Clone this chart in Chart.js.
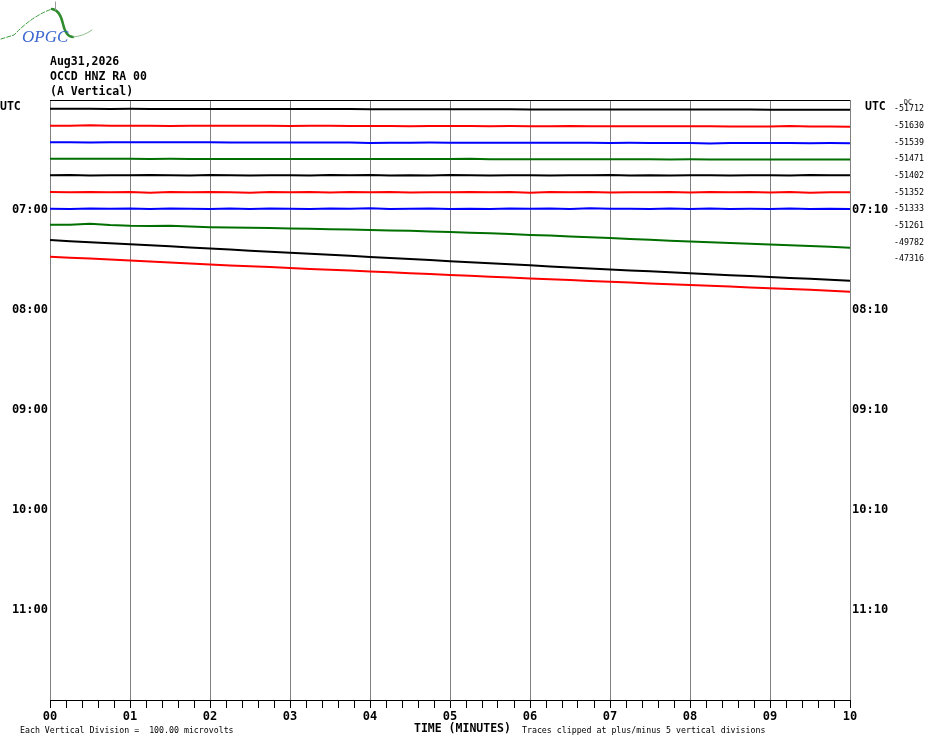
<!DOCTYPE html>
<html>
<head>
<meta charset="utf-8">
<script src="https://cdn.jsdelivr.net/npm/chart.js@4.4.0/dist/chart.umd.min.js"></script>
<style>
html,body{margin:0;padding:0;background:#fff;}
#wrap{position:relative;width:930px;height:744px;}
</style>
</head>
<body>
<div id="wrap"><canvas id="c" width="930" height="744"></canvas></div>
<script>
// ---- data ----
const titleLines = ['Aug31,2026', 'OCCD HNZ RA 00', '(A Vertical)'];
const leftHourLabels = ['07:00', '08:00', '09:00', '10:00', '11:00'];
const rightHourLabels = ['07:10', '08:10', '09:10', '10:10', '11:10'];
const hourRows = [6, 12, 18, 24, 30];
const dcOffsets = ['-51712', '-51630', '-51539', '-51471', '-51402', '-51352', '-51333', '-51261', '-49782', '-47316'];
const minuteLabels = ['00','01','02','03','04','05','06','07','08','09','10'];
const footLeft = 'Each Vertical Division =  100.00 microvolts';
const footMid = 'TIME (MINUTES)';
const footRight = 'Traces clipped at plus/minus 5 vertical divisions';

// trace deviations (downward, in screen-pixel amplitude units), 41 samples over 10 min
const trace0 = [0,0,0,0.1,0,0.1,0.1,0.1,0.2,0.2, 0.2,0.2,0.3,0.3,0.3,0.3,0.4,0.4,0.4,0.4, 0.5,0.5,0.5,0.5,0.6,0.6,0.6,0.6,0.7,0.7, 0.7,0.7,0.8,0.8,0.8,0.8,0.9,0.9,0.9,1.0, 1.0];
const trace1 = [0.2,0.3,-0.2,0.2,0.3,0.3,0.5,0.3,0.4,0.3, 0.4,0.4,0.5,0.4,0.2,0.5,0.5,0.5,0.8,0.6, 0.6,0.6,0.7,0.6,0.7,0.7,0.5,0.8,0.8,0.8, 0.9,0.8,0.9,0.9,1.0,1.0,1.0,0.5,1.1,1.1, 1.2];
const trace2 = [0,0.1,0.4,0.1,0.1,0.2,0.2,0.1,0.2,0.3, 0.3,0.3,0.4,0.3,0.4,0.4,0.8,0.5,0.5,0.4, 0.5,0.6,0.5,0.6,0.7,0.6,0.7,0.7,0.8,0.7, 0.8,0.8,0.9,1.3,0.8,0.9,0.9,0.9,1.0,0.9, 1.0];
const trace3 = [-0.1,-0.1,0,-0.1,0,0.3,0,0.1,0.1,0.1, 0.1,0.2,0.1,0.2,0.2,0.2,0.3,0.2,0.3,0.3, 0.3,0,0.4,0.4,0.4,0.4,0.5,0.5,0.4,0.5, 0.5,0.6,0.5,0.6,0.6,0.6,0.7,0.6,0.7,0.7, 0.7];
const trace4 = [-0.2,-0.4,0,-0.3,-0.1,-0.5,-0.2,0.1,-0.4,-0.2, 0,-0.3,-0.2,0.1,-0.4,-0.1,-0.5,0,-0.2,0.1, -0.4,-0.2,0,-0.3,-0.2,0.1,-0.3,-0.1,-0.5,0, -0.2,0.1,-0.3,-0.1,0,-0.3,-0.2,0.1,-0.4,-0.1, -0.2];
const trace5 = [-0.1,0.1,-0.2,0.2,-0.1,0.5,-0.1,0.2,-0.2,0.1, 0.5,-0.1,0.1,-0.2,0.3,-0.1,0.1,-0.2,0.4,0, 0.1,-0.1,0.2,-0.1,0.5,-0.1,0.1,-0.2,0.3,0, 0.1,-0.2,0.4,-0.1,0.2,-0.1,0.3,-0.1,0.5,0, 0];
const trace6 = [-0.1,0.1,-0.2,0,-0.2,0.1,-0.4,-0.1,0.1,-0.2, 0.2,-0.3,-0.1,0.1,-0.2,0,-0.5,0.1,0,-0.2, 0.1,-0.1,0.2,-0.3,0,-0.2,0.1,-0.6,0,-0.1, 0.2,-0.2,0.1,-0.4,0.1,0,0.1,-0.3,0.1,-0.1, 0.2];
const trace7 = [-0.8,-0.6,-1.8,-0.4,0.3,0.5,0.2,1.0,1.7,2.0, 2.4,2.6,3.0,3.3,3.8,4.1,4.5,5.0,5.4,6.0, 6.5,7.2,7.9,8.6,9.5,10.1,11.0,11.8,12.6,13.5, 14.3,15.2,16.0,16.7,17.5,18.2,19.0,19.8,20.6,21.4, 22.2];
const trace8 = [-2.1,-1.0,0.0,1.1,2.1,3.2,4.2,5.3,6.4,7.4, 8.5,9.5,10.6,11.6,12.7,13.7,14.8,15.8,16.9,17.9, 19.0,20.0,21.1,22.2,23.2,24.3,25.3,26.4,27.4,28.3, 29.2,30.2,31.1,32.0,33.0,33.9,34.9,35.8,36.7,37.7, 38.6];
const trace9 = [-2.1,-1.1,-0.2,0.8,1.8,2.7,3.6,4.7,5.6,6.7, 7.5,8.3,9.2,10.1,10.9,11.8,12.7,13.5,14.4,15.3, 16.1,16.9,17.9,18.7,19.6,20.5,21.3,22.2,23.0,23.8, 24.6,25.4,26.2,27.0,27.8,28.6,29.4,30.2,31.0,31.9, 32.9];
const traces = [trace0, trace1, trace2, trace3, trace4, trace5, trace6, trace7, trace8, trace9];

// ---- styles ----
const traceColors = ['#000000', '#ff0000', '#0000ff', '#006f00'];
const ROWS = 36;
const PLOT_H = 600;
const PX_PER_ROW = PLOT_H / ROWS;
const Y_MIN = -0.528;
const MONO = "'DejaVu Sans Mono', monospace";

const datasets = traces.map((arr, k) => ({
  data: arr.map((d, i) => ({ x: i * 10 / (arr.length - 1), y: k + d / PX_PER_ROW })),
  borderColor: traceColors[k % 4],
  borderWidth: 2,
  pointRadius: 0,
  tension: 0,
  fill: false
}));

const isInt = v => Math.abs(v - Math.round(v)) < 1e-6;

const decor = {
  id: 'decor',
  afterDraw(chart) {
    const ctx = chart.ctx;
    const ca = chart.chartArea;
    const ys = chart.scales.y;
    ctx.save();
    // top border
    ctx.strokeStyle = '#000';
    ctx.lineWidth = 1;
    ctx.beginPath();
    ctx.moveTo(ca.left, Math.round(ca.top) + 0.5);
    ctx.lineTo(ca.right, Math.round(ca.top) + 0.5);
    ctx.stroke();

    ctx.fillStyle = '#000';
    // title lines
    ctx.font = 'bold 11.5px ' + MONO;
    ctx.textAlign = 'left';
    ctx.textBaseline = 'alphabetic';
    titleLines.forEach((t, i) => ctx.fillText(t, 50, 65 + i * 15));

    // UTC labels
    ctx.font = 'bold 11.5px ' + MONO;
    ctx.textBaseline = 'middle';
    ctx.textAlign = 'left';
    ctx.fillText('UTC', 0, 107);
    ctx.fillText('UTC', 865, 107);

    // hour labels
    ctx.font = 'bold 12px ' + MONO;
    hourRows.forEach((r, i) => {
      const y = ys.getPixelForValue(r) + 1;
      ctx.textAlign = 'right';
      ctx.fillText(leftHourLabels[i], 48, y);
      ctx.textAlign = 'left';
      ctx.fillText(rightHourLabels[i], 852, y);
    });

    // DC offsets
    ctx.font = '8.3px ' + MONO;
    ctx.textAlign = 'left';
    dcOffsets.forEach((t, k) => {
      ctx.fillText(t, 894, ys.getPixelForValue(k) + 0.5);
    });
    ctx.font = '6.5px ' + MONO;
    ctx.fillText('DC', 904, 102);

    // footer
    ctx.font = '8.25px ' + MONO;
    ctx.textBaseline = 'middle';
    ctx.fillText(footLeft, 20, 730.5);
    ctx.fillText(footRight, 522, 730.5);
    ctx.font = 'bold 11.5px ' + MONO;
    ctx.fillText(footMid, 414, 729);

    // logo
    ctx.lineCap = 'round';
    ctx.strokeStyle = '#3a9a3a';
    ctx.lineWidth = 1;
    ctx.setLineDash([4, 2]);
    ctx.beginPath();
    ctx.moveTo(1, 39);
    ctx.lineTo(14, 35);
    ctx.quadraticCurveTo(32, 16, 52, 9);
    ctx.stroke();
    ctx.setLineDash([]);
    ctx.strokeStyle = '#2e8b2e';
    ctx.lineWidth = 2.5;
    ctx.beginPath();
    ctx.moveTo(52, 9);
    ctx.quadraticCurveTo(60, 10, 63, 24);
    ctx.quadraticCurveTo(66, 37, 73, 37);
    ctx.stroke();
    ctx.strokeStyle = '#8cc08c';
    ctx.lineWidth = 1;
    ctx.beginPath();
    ctx.moveTo(73, 37);
    ctx.quadraticCurveTo(84, 36, 92, 30);
    ctx.stroke();
    ctx.strokeStyle = '#999';
    ctx.beginPath();
    ctx.moveTo(55.5, 2);
    ctx.lineTo(55.5, 10);
    ctx.stroke();
    ctx.font = 'italic 17px "Liberation Serif", serif';
    ctx.fillStyle = '#3a66d0';
    ctx.textAlign = 'left';
    ctx.textBaseline = 'alphabetic';
    ctx.fillText('OPGC', 22, 42);
    ctx.restore();
  }
};

new Chart(document.getElementById('c'), {
  type: 'line',
  data: { datasets },
  options: {
    responsive: false,
    animation: false,
    devicePixelRatio: 1,
    layout: { padding: { left: 50, right: 80, top: 100, bottom: 0 } },
    plugins: { legend: { display: false }, tooltip: { enabled: false }, title: { display: false } },
    scales: {
      x: {
        type: 'linear',
        min: 0,
        max: 10,
        afterBuildTicks: scale => {
          const t = [];
          for (let i = 0; i <= 50; i++) t.push({ value: i / 5 });
          scale.ticks = t;
        },
        afterFit: scale => { scale.height = 44; },
        ticks: {
          autoSkip: false,
          maxRotation: 0,
          minRotation: 0,
          padding: 2,
          color: '#000',
          font: { family: MONO, weight: 'bold', size: 12 },
          callback: v => isInt(v) ? minuteLabels[Math.round(v)] : ''
        },
        grid: {
          color: ctx => (ctx.tick && isInt(ctx.tick.value)) ? '#808080' : 'rgba(0,0,0,0)',
          tickColor: '#000',
          tickLength: 8,
          lineWidth: 1,
          drawOnChartArea: true,
          drawTicks: true
        },
        border: { display: true, color: '#000', width: 1 }
      },
      y: {
        type: 'linear',
        display: false,
        reverse: true,
        min: Y_MIN,
        max: Y_MIN + ROWS
      }
    }
  },
  plugins: [decor]
});
</script>
</body>
</html>
